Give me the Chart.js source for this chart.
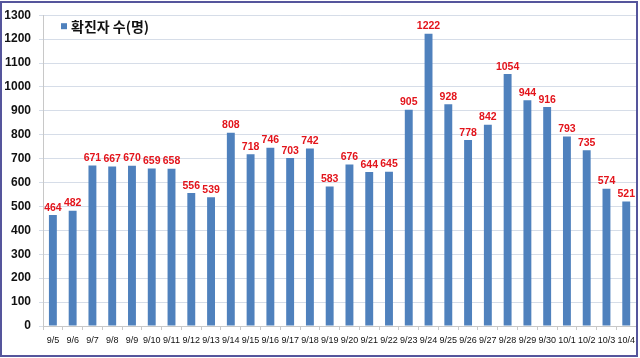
<!DOCTYPE html>
<html><head><meta charset="utf-8">
<script src="https://cdn.jsdelivr.net/npm/chart.js@4.4.1/dist/chart.umd.min.js"></script>
<style>
html,body{margin:0;padding:0;background:#fff;overflow:hidden;}
#wrap{position:relative;width:640px;height:358px;overflow:hidden;}
#frame{position:absolute;left:0;top:1px;width:638px;height:356px;box-sizing:border-box;border:2px solid #55559c;pointer-events:none;}
canvas{position:absolute;left:0;top:0;}
</style></head>
<body>
<div id="wrap"><canvas id="c" width="640" height="358"></canvas><div id="frame"></div></div>
<script>
const categories = ['9/5','9/6','9/7','9/8','9/9','9/10','9/11','9/12','9/13','9/14','9/15','9/16','9/17','9/18','9/19','9/20','9/21','9/22','9/23','9/24','9/25','9/26','9/27','9/28','9/29','9/30','10/1','10/2','10/3','10/4'];
const cases = [464,482,671,667,670,659,658,556,539,808,718,746,703,742,583,676,644,645,905,1222,928,778,842,1054,944,916,793,735,574,521];
const seriesLabel = '확진자 수(명)';
const yMin = 0, yMax = 1300, yStep = 100;

const BAR = '#4f81bd';

const valueLabels = {
  id: 'valueLabels',
  afterDatasetsDraw(chart) {
    const ctx = chart.ctx;
    const meta = chart.getDatasetMeta(0);
    ctx.save();
    ctx.fillStyle = '#e3141b';
    ctx.font = 'bold 10.5px "Liberation Sans", Arial, sans-serif';
    ctx.textAlign = 'center';
    ctx.textBaseline = 'bottom';
    meta.data.forEach((bar, i) => {
      ctx.fillText(String(chart.data.datasets[0].data[i]), bar.x, bar.y - 2);
    });
    ctx.restore();
  }
};

const innerLegend = {
  id: 'innerLegend',
  afterDraw(chart) {
    const ctx = chart.ctx;
    const a = chart.chartArea;
    const x = a.left + 18, y = a.top + 11;
    ctx.save();
    ctx.fillStyle = BAR;
    ctx.fillRect(x, y - 3, 6, 6);
    ctx.fillStyle = '#111';
    ctx.font = 'bold 14px "Noto Sans CJK KR", sans-serif';
    ctx.textBaseline = 'middle';
    ctx.textAlign = 'left';
    ctx.fillText(chart.data.datasets[0].label, x + 10, y);
    ctx.restore();
  }
};

new Chart(document.getElementById('c'), {
  type: 'bar',
  data: {
    labels: categories,
    datasets: [{
      label: seriesLabel,
      data: cases,
      backgroundColor: BAR,
      borderWidth: 0,
      barPercentage: 0.4,
      categoryPercentage: 1.0
    }]
  },
  options: {
    responsive: false,
    animation: false,
    devicePixelRatio: 1,
    layout: { padding: { left: 3, right: 0, top: 11, bottom: 0 } },
    plugins: { legend: { display: false }, tooltip: { enabled: false } },
    scales: {
      x: {
        offset: true,
        grid: { display: true, drawOnChartArea: false, offset: true, color: '#c8c8c8', tickLength: 4 },
        border: { display: true, color: '#c8c8c8' },
        ticks: {
          color: '#111',
          font: { family: '"Liberation Sans", Arial, sans-serif', size: 9 },
          padding: 5,
          maxRotation: 0,
          minRotation: 0,
          autoSkip: false
        },
        afterFit(s) { s.height = 32; }
      },
      y: {
        min: yMin, max: yMax,
        grid: { color: '#d6dde8', tickLength: 4 },
        border: { display: true, color: '#c8c8c8' },
        ticks: {
          stepSize: yStep,
          color: '#111',
          font: { family: '"Liberation Sans", Arial, sans-serif', size: 12, weight: 'bold' },
          padding: 8,
          callback: (v) => String(v)
        },
        afterFit(s) { s.width = 40; }
      }
    }
  },
  plugins: [valueLabels, innerLegend]
});
</script>
</body></html>
